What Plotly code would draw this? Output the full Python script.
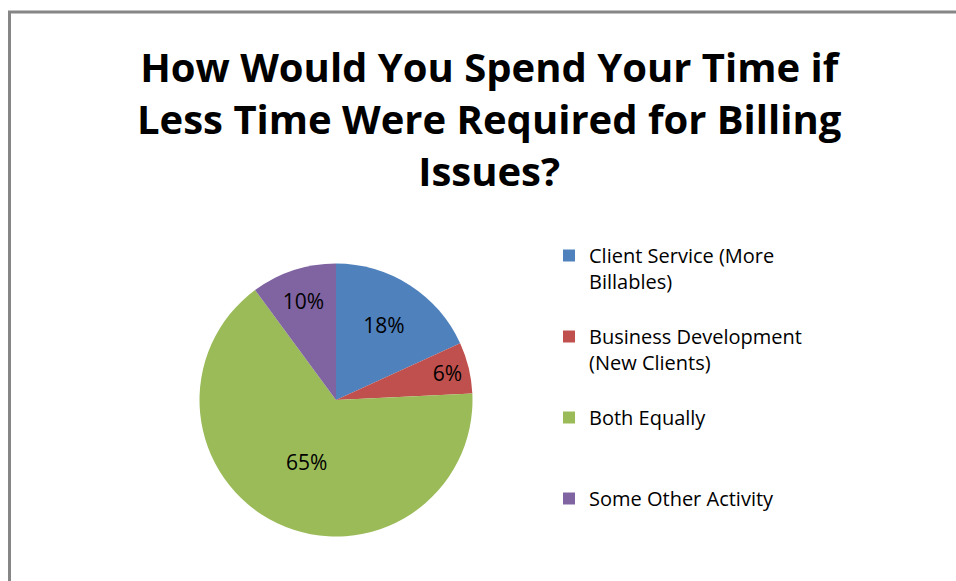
import plotly.graph_objects as go

# Data
categories = [
    "Client Service (More Billables)",
    "Business Development (New Clients)",
    "Both Equally",
    "Some Other Activity",
]
legend_labels = [
    "Client Service (More<br>Billables)<br>\u00a0",
    "Business Development<br>(New Clients)<br>\u00a0",
    "Both Equally<br>\u00a0<br>\u00a0",
    "Some Other Activity<br>\u00a0<br>\u00a0",
]
values = [18, 6, 65, 10]
colors = ["#4F81BD", "#C0504D", "#9BBB59", "#8064A2"]
title_text = "How Would You Spend Your Time if<br>Less Time Were Required for Billing<br>Issues?"

W, H = 956, 581
FONT = "Open Sans"

# pie geometry in pixels
cx, cy, r = 336, 400, 136.5

fig = go.Figure(
    go.Pie(
        labels=legend_labels,
        values=values,
        sort=False,
        direction="clockwise",
        rotation=0,
        marker=dict(colors=colors, line=dict(width=0)),
        texttemplate="%{value}%",
        textposition="inside",
        insidetextorientation="horizontal",
        textfont=dict(family=FONT, size=21, color="#000000"),
        hoverinfo="label+value",
        domain=dict(
            x=[(cx - r) / W, (cx + r) / W],
            y=[1 - (cy + r) / H, 1 - (cy - r) / H],
        ),
    )
)

fig.update_layout(
    width=W,
    height=H,
    margin=dict(l=0, r=0, t=0, b=0, autoexpand=False),
    paper_bgcolor="white",
    plot_bgcolor="white",
    showlegend=True,
    legend=dict(
        x=549 / W,
        xanchor="left",
        y=1 - 236 / H,
        yanchor="top",
        valign="top",
        font=dict(family=FONT, size=20, color="#000000"),
        bgcolor="rgba(0,0,0,0)",
        itemwidth=30,
        traceorder="normal",
    ),
    annotations=[
        dict(
            text=title_text,
            xref="paper",
            yref="paper",
            x=489 / W,
            xanchor="center",
            y=1 - 37 / H,
            yanchor="top",
            showarrow=False,
            align="center",
            font=dict(family=FONT, size=40, color="#000000", weight="bold"),
        )
    ],
    shapes=[
        dict(
            type="rect",
            xref="paper",
            yref="paper",
            x0=9.5 / W,
            x1=1.05,
            y0=-0.05,
            y1=1 - 12 / H,
            line=dict(color="#868686", width=3),
            fillcolor="rgba(0,0,0,0)",
            layer="below",
        )
    ],
)

fig.write_html("out.html")
